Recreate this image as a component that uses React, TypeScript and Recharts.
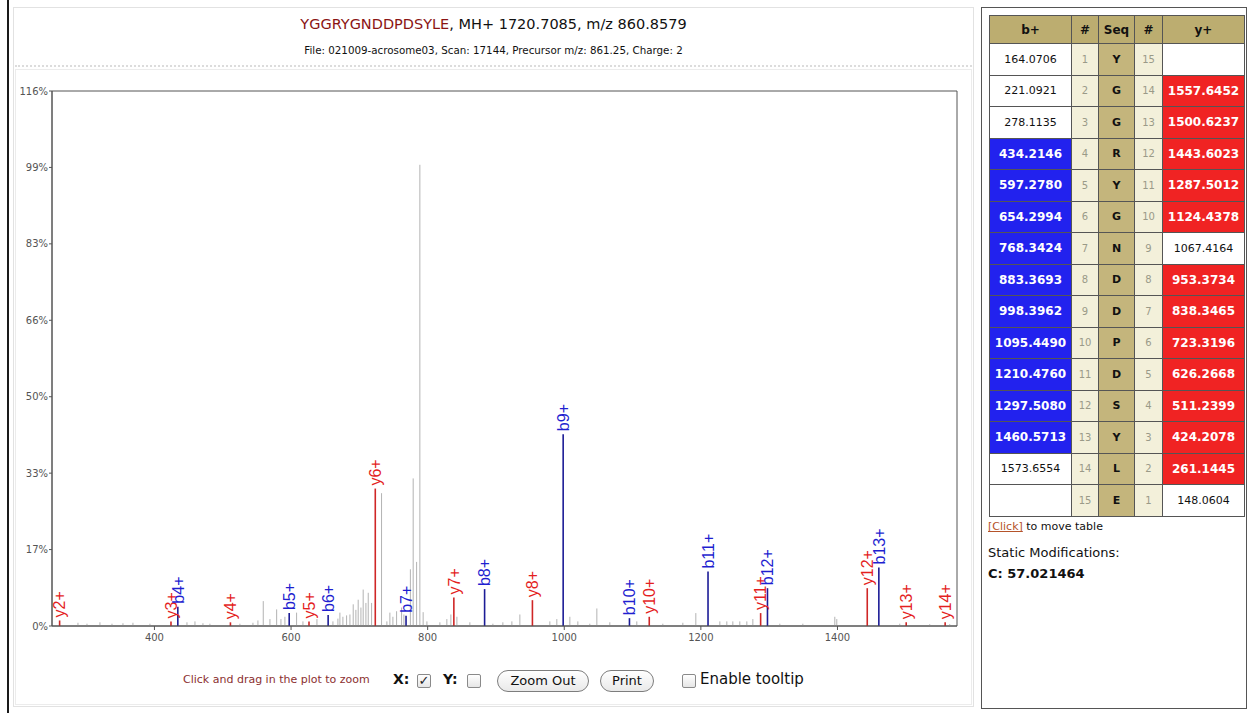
import React from 'react';
import { ScatterChart, Scatter, XAxis, YAxis, ReferenceLine, ReferenceArea } from 'recharts';

// ---- header text ----
const peptide = 'YGGRYGNDDPDSYLE';
const precursorInfo = ', MH+ 1720.7085, m/z 860.8579';
const fileInfo = 'File: 021009-acrosome03, Scan: 17144, Precursor m/z: 861.25, Charge: 2';

// ---- annotated fragment ions ----
const ionLabels = ['y2+', 'y3+', 'b4+', 'y4+', 'b5+', 'y5+', 'b6+', 'y6+', 'b7+', 'y7+', 'b8+', 'y8+', 'b9+', 'b10+', 'y10+', 'b11+', 'y11+', 'b12+', 'y12+', 'b13+', 'y13+', 'y14+'];
const ionMz = [261.1445, 424.2078, 434.2146, 511.2399, 597.278, 626.2668, 654.2994, 723.3196, 768.3424, 838.3465, 883.3693, 953.3734, 998.3962, 1095.449, 1124.4378, 1210.476, 1287.5012, 1297.508, 1443.6023, 1460.5713, 1500.6237, 1557.6452];
const ionIntensity = [1.2, 1.0, 4.2, 0.8, 2.8, 1.0, 2.4, 29.8, 2.2, 6.2, 8.0, 5.6, 41.6, 1.7, 2.0, 11.8, 2.8, 8.2, 8.2, 12.7, 0.8, 0.8];

// ---- unassigned peaks ----
const peakMz = [288.0, 301.2, 320.2, 337.8, 353.9, 368.5, 393.4, 447.6, 459.3, 471.0, 481.2, 525.1, 544.2, 551.5, 559.3, 569.1, 578.9, 585.2, 591.0, 608.1, 617.4, 637.9, 661.3, 668.6, 671.5, 675.9, 681.3, 686.2, 691.0, 694.9, 698.3, 702.3, 705.6, 709.6, 713.0, 717.9, 732.5, 740.3, 744.7, 749.1, 754.5, 761.8, 765.2, 774.7, 778.8, 783.8, 788.6, 793.4, 798.9, 817.9, 828.1, 834.0, 842.8, 861.8, 895.5, 910.1, 923.3, 935.0, 978.9, 989.1, 1008.2, 1019.9, 1037.4, 1047.7, 1066.7, 1106.2, 1144.3, 1173.6, 1192.6, 1227.8, 1238.0, 1246.8, 1257.0, 1267.3, 1276.1, 1315.6, 1349.3, 1396.1, 1399.0, 1491.2, 1535.1, 1564.4];
const peakIntensity = [0.7, 0.5, 0.8, 0.5, 0.6, 0.7, 0.5, 0.8, 1.0, 0.6, 0.5, 0.5, 0.7, 1.2, 5.4, 1.5, 3.6, 1.5, 2.0, 2.9, 1.0, 1.5, 1.0, 1.6, 2.9, 2.0, 2.3, 2.5, 4.7, 3.5, 5.7, 4.0, 7.9, 5.0, 7.2, 5.0, 28.8, 1.0, 2.9, 2.0, 3.2, 4.0, 2.5, 12.3, 32.0, 13.9, 100, 3.0, 1.0, 0.8, 1.5, 2.5, 2.0, 0.8, 0.5, 0.8, 1.0, 2.5, 1.0, 1.5, 2.0, 1.0, 0.5, 3.8, 0.8, 1.0, 0.5, 0.7, 2.8, 1.0, 1.0, 1.0, 1.0, 1.0, 1.5, 0.5, 0.5, 2.0, 1.5, 0.5, 0.4, 0.4];

// ---- axes ----
const xDomain = [250, 1575];
const xTicks = [400, 600, 800, 1000, 1200, 1400];
const yDomain = [0, 116];
const yTickValues = [0, 16.57, 33.14, 49.71, 66.29, 82.86, 99.43, 116];
const yTickLabels = ['0%', '17%', '33%', '50%', '66%', '83%', '99%', '116%'];

// ---- fragment table ----
const sequence = ['Y', 'G', 'G', 'R', 'Y', 'G', 'N', 'D', 'D', 'P', 'D', 'S', 'Y', 'L', 'E'];
const bIons = ['164.0706', '221.0921', '278.1135', '434.2146', '597.2780', '654.2994', '768.3424', '883.3693', '998.3962', '1095.4490', '1210.4760', '1297.5080', '1460.5713', '1573.6554', ''];
const yIons = ['', '1557.6452', '1500.6237', '1443.6023', '1287.5012', '1124.4378', '1067.4164', '953.3734', '838.3465', '723.3196', '626.2668', '511.2399', '424.2078', '261.1445', '148.0604'];
const bMatched = [4, 5, 6, 7, 8, 9, 10, 11, 12, 13];
const yMatched = [2, 3, 4, 5, 6, 7, 8, 10, 11, 12, 13, 14];

const UI_FONT = '"DejaVu Sans", Verdana, sans-serif';
const LABEL_FONT = '"Liberation Sans", Arial, sans-serif';

const B_LINE = '#1c1c96';
const Y_LINE = '#cf2626';
const B_TEXT = '#1f1fd0';
const Y_TEXT = '#e41f1f';

const ionPoints = ionLabels.map((label, i) => ({
  label,
  mz: ionMz[i],
  intensity: ionIntensity[i],
  series: label[0],
}));

const noisePoints = peakMz.map((mz, i) => ({ mz, intensity: peakIntensity[i] }));

const IonLabel = (props: any) => {
  const { cx, cy, payload } = props;
  if (cx == null || cy == null) return null;
  const y0 = cy - 3;
  return (
    <text
      x={cx}
      y={y0}
      dy="0.36em"
      transform={`rotate(-90 ${cx} ${y0})`}
      textAnchor="start"
      fontSize={16}
      fontFamily={LABEL_FONT}
      fill={payload.series === 'b' ? B_TEXT : Y_TEXT}
    >
      {payload.label}
    </text>
  );
};

const SpectrumPlot = () => (
  <ScatterChart width={970} height={590} margin={{ top: 11, right: 15, bottom: 14, left: 10 }}>
    <XAxis
      type="number"
      dataKey="mz"
      domain={xDomain}
      ticks={xTicks}
      allowDataOverflow
      height={30}
      tickSize={4}
      tickMargin={4}
      stroke="#545454"
      tick={{ fontSize: 10, fill: '#545454', fontFamily: UI_FONT }}
    />
    <YAxis
      type="number"
      dataKey="intensity"
      domain={yDomain}
      ticks={yTickValues}
      tickFormatter={(v: number, i: number) => yTickLabels[i] ?? ''}
      allowDataOverflow
      width={40}
      tickSize={3}
      tickMargin={1}
      stroke="#545454"
      tick={{ fontSize: 10, fill: '#545454', fontFamily: UI_FONT }}
    />
    <ReferenceArea x1={xDomain[0]} x2={xDomain[1]} y1={yDomain[0]} y2={yDomain[1]} fill="none" stroke="#545454" strokeWidth={1} />
    {noisePoints.map((p, i) => (
      <ReferenceLine
        key={`n${i}`}
        segment={[{ x: p.mz, y: 0 }, { x: p.mz, y: p.intensity }]}
        stroke="#b3b3b3"
        strokeWidth={1}
      />
    ))}
    {ionPoints.map((p, i) => (
      <ReferenceLine
        key={`i${i}`}
        segment={[{ x: p.mz, y: 0 }, { x: p.mz, y: p.intensity }]}
        stroke={p.series === 'b' ? B_LINE : Y_LINE}
        strokeWidth={1.6}
      />
    ))}
    <Scatter data={ionPoints} isAnimationActive={false} shape={IonLabel} />
  </ScatterChart>
);

const CheckBox = ({ checked, left }: { checked: boolean; left: number }) => (
  <div
    style={{
      position: 'absolute',
      left,
      top: 674,
      width: 12,
      height: 12,
      border: '1px solid #8a8a8a',
      borderRadius: 2,
      background: 'linear-gradient(#ffffff, #e6e6e6)',
      fontSize: 13,
      lineHeight: '12px',
      textAlign: 'center',
      color: '#222',
      fontFamily: UI_FONT,
    }}
  >
    {checked ? '✓' : ''}
  </div>
);

const PillButton = ({ text, left, width }: { text: string; left: number; width: number }) => (
  <div
    style={{
      position: 'absolute',
      left,
      top: 670,
      width,
      height: 22,
      boxSizing: 'border-box',
      border: '1px solid #7d7d7d',
      borderRadius: 11,
      background: 'linear-gradient(#ffffff, #e9e9e9)',
      fontSize: 13,
      lineHeight: '20px',
      textAlign: 'center',
      color: '#111',
      fontFamily: UI_FONT,
    }}
  >
    {text}
  </div>
);

const FragmentTable = () => {
  const cellBase: React.CSSProperties = {
    border: '1px solid #555',
    padding: 0,
    textAlign: 'center',
    height: 30.5,
    fontSize: 11,
  };
  return (
    <table
      style={{
        position: 'absolute',
        left: 989,
        top: 15,
        borderCollapse: 'collapse',
        tableLayout: 'fixed',
        width: 255,
        fontFamily: UI_FONT,
      }}
    >
      <colgroup>
        <col style={{ width: 82 }} />
        <col style={{ width: 27 }} />
        <col style={{ width: 36 }} />
        <col style={{ width: 28 }} />
        <col style={{ width: 82 }} />
      </colgroup>
      <thead>
        <tr>
          {['b+', '#', 'Seq', '#', 'y+'].map((h, i) => (
            <th
              key={i}
              style={{
                ...cellBase,
                height: 27,
                background: '#bcad70',
                fontSize: 12,
                fontWeight: 'bold',
                color: '#111',
              }}
            >
              {h}
            </th>
          ))}
        </tr>
      </thead>
      <tbody>
        {sequence.map((aa, i) => {
          const bIdx = i + 1;
          const yIdx = sequence.length - i;
          const bHit = bMatched.includes(bIdx);
          const yHit = yMatched.includes(yIdx);
          return (
            <tr key={i}>
              <td
                style={{
                  ...cellBase,
                  background: bHit ? '#2222ee' : '#fff',
                  color: bHit ? '#fff' : '#111',
                  fontWeight: bHit ? 'bold' : 'normal',
                  fontSize: bHit ? 12 : 11,
                }}
              >
                {bIons[i]}
              </td>
              <td style={{ ...cellBase, background: '#f3f0da', color: '#9a9a88', fontSize: 10 }}>{bIdx}</td>
              <td style={{ ...cellBase, background: '#c4b57c', color: '#111', fontWeight: 'bold', fontSize: 11 }}>{aa}</td>
              <td style={{ ...cellBase, background: '#f3f0da', color: '#9a9a88', fontSize: 10 }}>{yIdx}</td>
              <td
                style={{
                  ...cellBase,
                  background: yHit ? '#f02323' : '#fff',
                  color: yHit ? '#fff' : '#111',
                  fontWeight: yHit ? 'bold' : 'normal',
                  fontSize: yHit ? 12 : 11,
                }}
              >
                {yIons[i]}
              </td>
            </tr>
          );
        })}
      </tbody>
    </table>
  );
};

export default function App() {
  return (
    <div
      style={{
        position: 'fixed',
        left: 0,
        top: 0,
        width: 1252,
        height: 713,
        background: '#fff',
        overflow: 'hidden',
        fontFamily: UI_FONT,
      }}
    >
      {/* page rule on the left */}
      <div style={{ position: 'absolute', left: 7, top: 0, width: 2, height: 713, background: '#1a1a1a' }} />

      {/* spectrum panel */}
      <div style={{ position: 'absolute', left: 13, top: 7, width: 961, height: 700, border: '1px solid #e2e2e2', boxSizing: 'border-box' }} />
      <div
        style={{
          position: 'absolute',
          left: 15,
          top: 9,
          width: 957,
          height: 58,
          borderBottom: '2px dotted #dcdcdc',
          boxSizing: 'border-box',
        }}
      />
      <div style={{ position: 'absolute', left: 15, top: 69, width: 957, height: 636, border: '1px solid #ececec', boxSizing: 'border-box' }} />

      <div style={{ position: 'absolute', left: 15, top: 16, width: 957, textAlign: 'center', fontSize: 14.5, color: '#111', whiteSpace: 'nowrap' }}>
        <span style={{ color: '#8b1414' }}>{peptide}</span>
        {precursorInfo}
      </div>
      <div style={{ position: 'absolute', left: 15, top: 44, width: 957, textAlign: 'center', fontSize: 10.3, color: '#111', whiteSpace: 'nowrap' }}>
        {fileInfo}
      </div>

      <div style={{ position: 'absolute', left: 2, top: 80 }}>
        <SpectrumPlot />
      </div>

      {/* zoom controls */}
      <div style={{ position: 'absolute', left: 183, top: 673, fontSize: 11, color: '#8b3030', whiteSpace: 'nowrap' }}>
        Click and drag in the plot to zoom
      </div>
      <div style={{ position: 'absolute', left: 393, top: 671, fontSize: 14, color: '#111', fontWeight: 'bold' }}>X:</div>
      <CheckBox checked left={417} />
      <div style={{ position: 'absolute', left: 443, top: 671, fontSize: 14, color: '#111', fontWeight: 'bold' }}>Y:</div>
      <CheckBox checked={false} left={467} />
      <PillButton text="Zoom Out" left={497} width={92} />
      <PillButton text="Print" left={600} width={54} />
      <CheckBox checked={false} left={682} />
      <div style={{ position: 'absolute', left: 700, top: 670, fontSize: 15, color: '#111', whiteSpace: 'nowrap' }}>Enable tooltip</div>

      {/* fragment ion panel */}
      <div style={{ position: 'absolute', left: 981, top: 7, width: 266, height: 702, border: '1px solid #555', boxSizing: 'border-box' }} />
      <FragmentTable />
      <div style={{ position: 'absolute', left: 988, top: 520, fontSize: 11, color: '#111', whiteSpace: 'nowrap' }}>
        <span style={{ color: '#b5532a', textDecoration: 'underline' }}>[Click]</span> to move table
      </div>
      <div style={{ position: 'absolute', left: 988, top: 545, fontSize: 13, color: '#111', whiteSpace: 'nowrap' }}>Static Modifications:</div>
      <div style={{ position: 'absolute', left: 988, top: 566, fontSize: 13, color: '#111', fontWeight: 'bold', whiteSpace: 'nowrap' }}>C: 57.021464</div>
    </div>
  );
}
